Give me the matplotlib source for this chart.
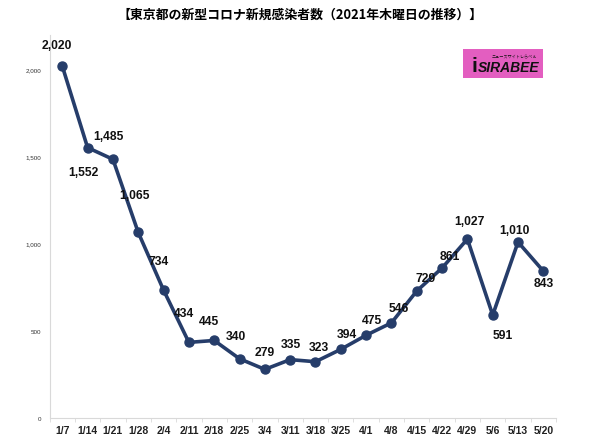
"""
Tokyo new COVID-19 cases on Thursdays, 2021.
"""
import matplotlib.pyplot as plt
from matplotlib.patches import Rectangle

plt.rcParams['font.family'] = ['Liberation Sans', 'Noto Sans CJK JP', 'DejaVu Sans']

# --- DATA --- #
dates = ["1/7", "1/14", "1/21", "1/28", "2/4", "2/11", "2/18", "2/25", "3/4", "3/11",
         "3/18", "3/25", "4/1", "4/8", "4/15", "4/22", "4/29", "5/6", "5/13", "5/20"]
cases = [2020, 1552, 1485, 1065, 734, 434, 445, 340, 279, 335,
         323, 394, 475, 546, 729, 861, 1027, 591, 1010, 843]
ytick_values = [0, 500, 1000, 1500, 2000]

# label offsets from each point, in pixels (dx, dy)
label_offsets = [(-5, 21), (-4, -24), (-4, 23), (-4, 37), (-5, 29), (-5, 29), (-5, 19),
                 (-4, 23), (0, 17), (1, 16), (3, 15), (6, 15), (6, 15), (7, 15),
                 (9, 13), (8, 12), (2, 18), (10, -20), (-4, 12), (0, -12)]

line_color = "#263d6a"
axis_gray = "#d9d9d9"

# --- FIGURE --- #
fig = plt.figure(figsize=(6.0, 4.39), dpi=100)
ax = fig.add_axes([0.0827, 0.0456, 0.844, 0.873])

x = list(range(len(dates)))
ax.plot(x, cases, color=line_color, linewidth=2.6, marker="o", markersize=6.5,
        solid_joinstyle="round")

# --- VALUE LABELS --- #
for i, (xi, yi) in enumerate(zip(x, cases)):
    dx, dy = label_offsets[i]
    ax.annotate(f"{yi:,}", (xi, yi), xytext=(dx, dy), textcoords="offset pixels",
                ha="center", va="center", fontsize=8.7, fontweight="bold", color="#111111")

# --- AXES --- #
ax.set_xlim(-0.5, len(dates) - 0.5)
ax.set_ylim(0, 2200)
ax.set_xticks(x)
ax.set_xticklabels(dates, fontsize=7.5, fontweight="bold", color="#222222")
ax.set_xticks([i + 0.5 for i in range(-1, len(dates))], minor=True)
ax.tick_params(axis="x", which="major", length=0, pad=5)
ax.tick_params(axis="x", which="minor", length=3, color=axis_gray)
ax.set_yticks(ytick_values)
ax.set_yticklabels([f"{v:,}" for v in ytick_values], fontsize=4.5, color="#333333")
ax.tick_params(axis="y", length=0, pad=6)

for side in ["top", "right"]:
    ax.spines[side].set_visible(False)
for side in ["left", "bottom"]:
    ax.spines[side].set_color(axis_gray)
    ax.spines[side].set_linewidth(0.8)

# --- TITLE --- #
fig.text(0.5, 1 - 15 / 439, "【東京都の新型コロナ新規感染者数（2021年木曜日の推移）】",
         ha="center", va="center", fontsize=9.3, fontweight="bold",
         family=["Noto Sans CJK JP", "DejaVu Sans"])

# --- LOGO --- #
fig.patches.append(Rectangle((463 / 600, 1 - 79 / 439), 80 / 600, 29 / 439,
                             transform=fig.transFigure, facecolor="#e35ec0",
                             edgecolor="none"))
fig.text(509 / 600, 1 - 68 / 439, "SIRABEE", ha="center", va="center", fontsize=10,
         fontweight="bold", style="italic", color="#111111")
fig.text(514 / 600, 1 - 57 / 439, "ニュースサイトしらべぇ", ha="center", va="center",
         fontsize=3, color="#111111", family=["Noto Sans CJK JP", "DejaVu Sans"])
fig.text(474 / 600, 1 - 66 / 439, "i", ha="center", va="center", fontsize=15,
         fontweight="bold", color="#111111")

fig.savefig("out.png", dpi=100)
